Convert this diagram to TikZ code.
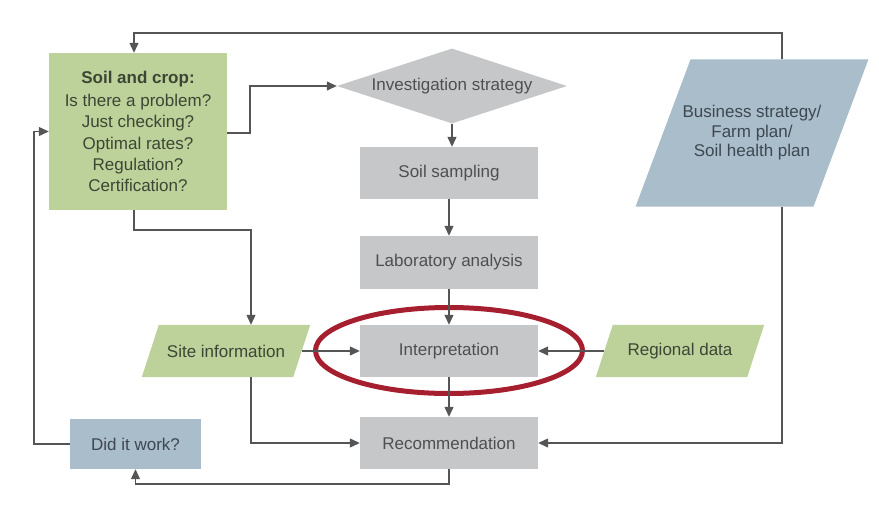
\documentclass[tikz,border=0pt]{standalone}
\usepackage{fontspec}
\setmainfont{Liberation Sans}
\usetikzlibrary{arrows.meta,shapes.geometric,calc,backgrounds}
\definecolor{boxgreen}{HTML}{BCD29A}
\definecolor{boxgray}{HTML}{C5C7C8}
\definecolor{boxblue}{HTML}{AABDCA}
\definecolor{textgray}{HTML}{4D4F51}
\definecolor{greentext}{HTML}{3D4634}
\definecolor{bluetext}{HTML}{3E4852}
\definecolor{ringred}{HTML}{A51F2F}
\definecolor{linegray}{HTML}{555555}
\newcommand\myparafill[3]{%
  \fill[#3] ($(#1.south west)+(-#2,0)$) -- ($(#1.south east)+(-#2,0)$)
    -- ($(#1.north east)+(#2,0)$) -- ($(#1.north west)+(#2,0)$) -- cycle;}
\begin{document}
\begin{tikzpicture}[x=1pt,y=-1pt,
  font=\fontsize{17}{21.3}\selectfont,
  box/.style={rectangle, fill=boxgray, text=textgray, minimum width=178pt,
    minimum height=52pt, inner sep=0pt},
  para/.style={rectangle, inner sep=0pt, minimum height=52pt},
  link/.style={draw=linegray, line width=1.2pt,
    -{Triangle[length=10pt,width=9pt]}}]
\useasboundingbox (0,0) rectangle (879,514);

% process boxes
\node[box] (samp) at (449,173) {Soil sampling};
\node[box, minimum height=53pt] (lab) at (449,262.5) {Laboratory analysis};
\node[box] (interp) at (449,351) {Interpretation};
\node[box] (rec) at (449,443) {Recommendation};
\node[box, fill=boxblue, text=bluetext, minimum width=131pt,
  minimum height=50pt] (did) at (135.5,444) {Did it work?};
\node[box, fill=boxgreen, text=greentext, minimum width=178pt,
  minimum height=157pt, align=center] (soil) at (138,131.5)
  {\textbf{Soil and crop:}\\[1.7pt] Is there a problem?\\ Just checking?\\
   Optimal rates?\\ Regulation?\\ Certification?};
\node[diamond, aspect=3.07, fill=boxgray, text=textgray, minimum width=230pt,
  minimum height=75pt, inner sep=0pt] (inv) at (452,86)
  {\raisebox{-2pt}{Investigation strategy}};

% parallelograms
\node[para, text=greentext, minimum width=151pt] (site) at (226,351) {Site information};
\node[para, text=greentext, minimum width=151pt] (reg) at (680,351) {Regional data};
\node[para, text=bluetext, minimum width=177.5pt, minimum height=147pt,
  align=center, font=\fontsize{17}{19.5}\selectfont] (bus) at (752,133)
  {Business strategy/\\ Farm plan/\\ Soil health plan};
\begin{scope}[on background layer]
  \myparafill{site}{8.5}{boxgreen}
  \myparafill{reg}{8.5}{boxgreen}
  \myparafill{bus}{27.5}{boxblue}
\end{scope}

% highlight ring
\node[ellipse, draw=ringred, line width=5pt, minimum width=267pt,
  minimum height=86pt, inner sep=0pt] (ring) at (449,350.5) {};

% bend points
\coordinate (sx) at (134,0);
\coordinate (tr) at (782,33);
\coordinate (k1) at (250,133);
\coordinate (k2) at (251,230);
\coordinate (k4) at (0,484);
\coordinate (k5) at (34,0);

% connectors
\draw[link] (bus.north -| tr) -- (tr) -| (sx |- soil.north);
\draw[link] (bus.south -| tr) |- (rec.east);
\draw[link] (soil.east |- k1) -- (k1) |- (inv.west);
\draw[link] (sx |- soil.south) |- (k2) -- (k2 |- site.north);
\draw[link] (k2 |- site.south) |- (rec.west);
\draw[link] (site.east) -- (interp.west);
\draw[link] (reg.west) -- (interp.east);
\draw[link] (inv.south) -- (inv.south |- samp.north);
\draw[link] (samp.south) -- (lab.north);
\draw[link] (lab.south) -- (interp.north);
\draw[link] (interp.south) -- (rec.north);
\draw[link] (rec.south) -- (rec.south |- k4) -| (did.south);
\draw[link] (did.west) -- (k5 |- did.west) |- (soil.west);
\end{tikzpicture}
\end{document}
